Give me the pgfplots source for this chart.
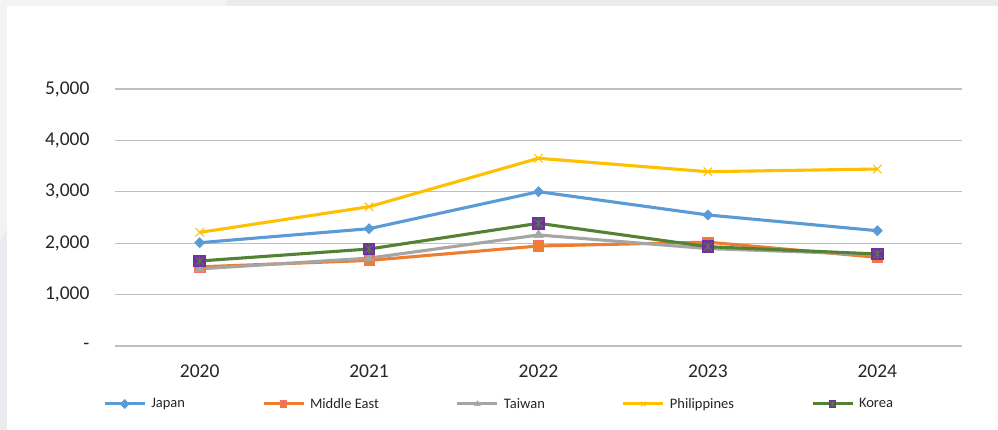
\documentclass[border=0pt]{standalone}
\usepackage{pgfplots}
\pgfplotsset{compat=1.18}
\usepackage{fontspec}
\setmainfont{Carlito}
\definecolor{bggray}{HTML}{EAEBEF}
\definecolor{bglight}{HTML}{F3F3F5}
\definecolor{gridc}{HTML}{C0C0C0}
\definecolor{txt}{HTML}{262626}
\definecolor{cjapan}{HTML}{5B9BD5}
\definecolor{cme}{HTML}{ED7D31}
\definecolor{cmeedge}{HTML}{F5706A}
\definecolor{ctw}{HTML}{A5A5A5}
\definecolor{cph}{HTML}{FFC000}
\definecolor{ckor}{HTML}{548235}
\definecolor{kpurple}{HTML}{7030A0}
\pgfdeclareplotmark{korea}{%
  \pgfpathrectangle{\pgfqpoint{-\pgfplotmarksize}{-\pgfplotmarksize}}{\pgfqpoint{2\pgfplotmarksize}{2\pgfplotmarksize}}%
  \pgfsetfillcolor{kpurple}\pgfsetstrokecolor{kpurple}%
  \pgfusepathqfillstroke
  \pgfsetstrokecolor{ckor}%
  \pgfpathmoveto{\pgfqpoint{-.7\pgfplotmarksize}{-.7\pgfplotmarksize}}\pgfpathlineto{\pgfqpoint{.7\pgfplotmarksize}{.7\pgfplotmarksize}}%
  \pgfpathmoveto{\pgfqpoint{-.7\pgfplotmarksize}{.7\pgfplotmarksize}}\pgfpathlineto{\pgfqpoint{.7\pgfplotmarksize}{-.7\pgfplotmarksize}}%
  \pgfpathmoveto{\pgfqpoint{0pt}{-.85\pgfplotmarksize}}\pgfpathlineto{\pgfqpoint{0pt}{.85\pgfplotmarksize}}%
  \pgfusepathqstroke
}
\begin{document}
\begin{tikzpicture}[x=1pt,y=1pt]
\fill[bggray] (0,0) rectangle (998,430);
\fill[bglight] (0,430) -- (226,430) -- (226,424) -- (7,424) -- (7,200) -- (0,190) -- cycle;
\fill[white] (7,0) rectangle (998,424);
\useasboundingbox (0,0) rectangle (998,430);
\begin{axis}[
  at={(115pt,84pt)}, anchor=south west,
  scale only axis, width=847pt, height=257pt,
  xmin=-0.5, xmax=4.5, ymin=0, ymax=5000,
  xtick={0,1,2,3,4}, xticklabels={2020,2021,2022,2023,2024},
  ytick={0,1000,2000,3000,4000,5000},
  yticklabels={-,{1,000},{2,000},{3,000},{4,000},{5,000}},
  ymajorgrids, grid style={draw=gridc, line width=1.3pt},
  axis line style={draw=none},
  major tick length=0pt,
  tick label style={font=\fontsize{19.5}{22}\selectfont, text=txt},
  yticklabel style={anchor=east, xshift=-22pt},
  xticklabel style={anchor=north, yshift=-15pt},
  clip=false,
  legend columns=5,
  legend style={at={(-0.0141,-0.2257)}, anchor=west, draw=none, fill=none, inner sep=0pt,
    font=\fontsize{14.5}{16}\selectfont, text=txt,
    /tikz/every odd column/.append style={column sep=3pt},
    /tikz/every even column/.append style={column sep=75pt}},
  legend cell align=left,
  legend image code/.code={\draw[mark repeat=2,mark phase=2,#1,line width=3pt,mark size=3.2pt] plot coordinates {(0pt,0pt) (20pt,0pt) (40pt,0pt)};},
  every axis plot/.append style={line width=3.1pt},
]
\addplot[cjapan, mark=square*, mark size=3.6pt, mark options={rotate=45, fill=cjapan, draw=cjapan, line width=0.5pt}]
  coordinates {(0,2010) (1,2282) (2,3002) (3,2549) (4,2243)};
\addlegendentry{Japan}
\addplot[cme, mark=square*, mark size=5.2pt, mark options={fill=cme, draw=cmeedge, line width=0.8pt}]
  coordinates {(0,1540) (1,1665) (2,1945) (3,2020) (4,1725)};
\addlegendentry{Middle East}
\addplot[ctw, mark=triangle*, mark size=5.5pt, mark options={fill=ctw, draw=ctw, line width=0.5pt}]
  coordinates {(0,1500) (1,1710) (2,2160) (3,1895) (4,1780)};
\addlegendentry{Taiwan}
\addplot[cph, mark=x, mark size=6pt, mark options={draw=cph, line width=1pt}]
  coordinates {(0,2210) (1,2710) (2,3652) (3,3391) (4,3443)};
\addlegendentry{Philippines}
\addplot[ckor, mark=korea, mark size=5.8pt, mark options={line width=0.9pt}]
  coordinates {(0,1654) (1,1887) (2,2387) (3,1932) (4,1790)};
\addlegendentry{Korea}
\end{axis}
\end{tikzpicture}
\end{document}
